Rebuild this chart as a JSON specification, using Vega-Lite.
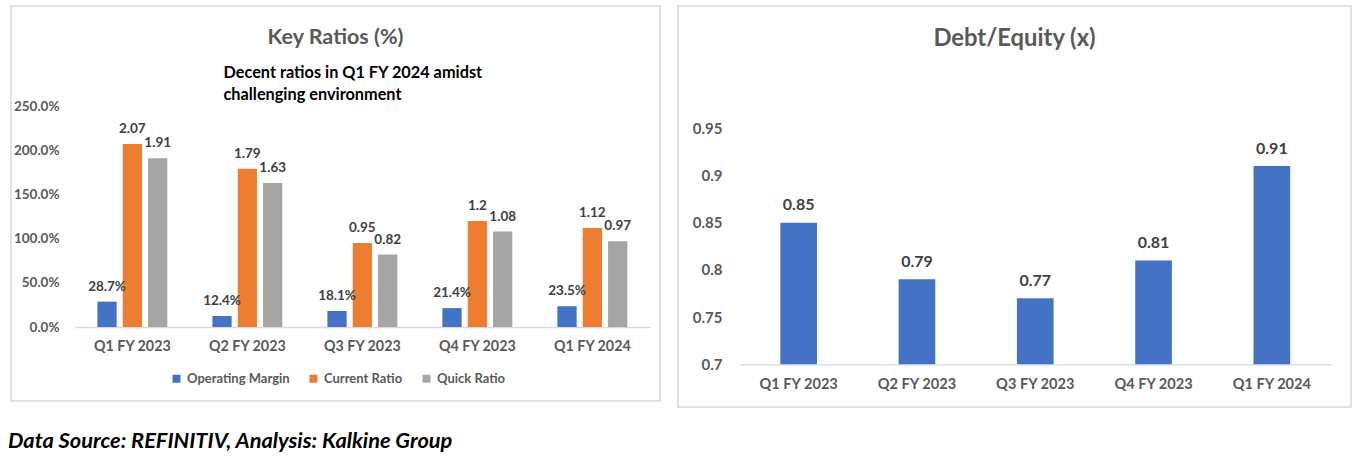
{
  "$schema": "https://vega.github.io/schema/vega-lite/v6.json",
  "padding": {"left": 8, "top": 5, "right": 0, "bottom": 0},
  "background": "white",
  "config": {
    "font": "Lato",
    "view": {"stroke": "#D9D9D9", "strokeWidth": 1.5},
    "concat": {"spacing": 16}
  },
  "title": {
    "text": "Data Source: REFINITIV, Analysis: Kalkine Group",
    "orient": "bottom",
    "anchor": "start",
    "frame": "group",
    "fontSize": 21.8,
    "fontStyle": "italic",
    "fontWeight": "bold",
    "color": "#000000",
    "baseline": "alphabetic",
    "offset": 40,
    "dx": -3
  },
  "hconcat": [
    {
      "width": 649,
      "height": 395,
      "title": {
        "text": "Key Ratios (%)",
        "anchor": "middle",
        "frame": "group",
        "fontSize": 21.5,
        "fontWeight": "bold",
        "color": "#595959",
        "baseline": "alphabetic",
        "offset": -59
      },
      "data": {
        "values": [
          {"period": "Q1 FY 2023", "series": "Operating Margin", "value": 28.7, "label": "28.7%"},
          {"period": "Q1 FY 2023", "series": "Current Ratio", "value": 207, "label": "2.07"},
          {"period": "Q1 FY 2023", "series": "Quick Ratio", "value": 191, "label": "1.91"},
          {"period": "Q2 FY 2023", "series": "Operating Margin", "value": 12.4, "label": "12.4%"},
          {"period": "Q2 FY 2023", "series": "Current Ratio", "value": 179, "label": "1.79"},
          {"period": "Q2 FY 2023", "series": "Quick Ratio", "value": 163, "label": "1.63"},
          {"period": "Q3 FY 2023", "series": "Operating Margin", "value": 18.1, "label": "18.1%"},
          {"period": "Q3 FY 2023", "series": "Current Ratio", "value": 95, "label": "0.95"},
          {"period": "Q3 FY 2023", "series": "Quick Ratio", "value": 82, "label": "0.82"},
          {"period": "Q4 FY 2023", "series": "Operating Margin", "value": 21.4, "label": "21.4%"},
          {"period": "Q4 FY 2023", "series": "Current Ratio", "value": 120, "label": "1.2"},
          {"period": "Q4 FY 2023", "series": "Quick Ratio", "value": 108, "label": "1.08"},
          {"period": "Q1 FY 2024", "series": "Operating Margin", "value": 23.5, "label": "23.5%"},
          {"period": "Q1 FY 2024", "series": "Current Ratio", "value": 112, "label": "1.12"},
          {"period": "Q1 FY 2024", "series": "Quick Ratio", "value": 97, "label": "0.97"}
        ]
      },
      "encoding": {
        "x": {
          "field": "period",
          "type": "nominal",
          "sort": null,
          "scale": {"range": [63.85, 638.85], "paddingInner": 0.392, "paddingOuter": 0.196},
          "axis": {
            "title": null,
            "orient": "bottom",
            "offset": -74,
            "domainColor": "#D9D9D9",
            "domainWidth": 1.3,
            "ticks": false,
            "grid": false,
            "labelAngle": 0,
            "labelPadding": 12,
            "labelFontSize": 14.3,
            "labelFontWeight": "bold",
            "labelColor": "#595959"
          }
        },
        "xOffset": {
          "field": "series",
          "type": "nominal",
          "sort": ["Operating Margin", "Current Ratio", "Quick Ratio"],
          "scale": {"paddingInner": 0.24, "paddingOuter": 0}
        },
        "y": {
          "field": "value",
          "type": "quantitative",
          "scale": {"domain": [0, 250], "range": [321, 100], "nice": false},
          "axis": {
            "title": ["Decent ratios in Q1 FY 2024 amidst", "challenging environment"],
            "orient": "left",
            "offset": -48,
            "values": [0, 50, 100, 150, 200, 250],
            "labelExpr": "format(datum.value, '.1f') + '%'",
            "domain": false,
            "ticks": false,
            "grid": false,
            "labelPadding": 0,
            "labelFontSize": 13.5,
            "labelFontWeight": "bold",
            "labelColor": "#595959",
            "titleAngle": 0,
            "titleAlign": "left",
            "titleBaseline": "top",
            "titleX": 164,
            "titleY": 58,
            "titleFontSize": 16.3,
            "titleFontWeight": "bold",
            "titleColor": "#000000",
            "titleLineHeight": 22
          }
        }
      },
      "layer": [
        {
          "mark": {"type": "bar"},
          "encoding": {
            "color": {
              "field": "series",
              "type": "nominal",
              "scale": {
                "domain": ["Operating Margin", "Current Ratio", "Quick Ratio"],
                "range": ["#4472C4", "#ED7D31", "#A5A5A5"]
              },
              "legend": {
                "orient": "none",
                "direction": "horizontal",
                "legendX": 159,
                "legendY": 366,
                "title": null,
                "symbolType": "square",
                "symbolSize": 64,
                "symbolStrokeWidth": 0,
                "labelFontSize": 13,
                "labelFontWeight": "bold",
                "labelColor": "#595959",
                "labelOffset": 4,
                "columnPadding": 17
              }
            }
          }
        },
        {
          "mark": {"type": "text", "baseline": "middle", "dy": -15, "fontSize": 13.5, "fontWeight": "bold", "color": "#404040"},
          "encoding": {"text": {"field": "label", "type": "nominal"}}
        }
      ]
    },
    {
      "width": 673,
      "height": 401,
      "title": {
        "text": "Debt/Equity (x)",
        "anchor": "middle",
        "frame": "group",
        "fontSize": 23.8,
        "fontWeight": "bold",
        "color": "#595959",
        "baseline": "alphabetic",
        "offset": -64
      },
      "data": {
        "values": [
          {"period": "Q1 FY 2023", "value": 0.85},
          {"period": "Q2 FY 2023", "value": 0.79},
          {"period": "Q3 FY 2023", "value": 0.77},
          {"period": "Q4 FY 2023", "value": 0.81},
          {"period": "Q1 FY 2024", "value": 0.91}
        ]
      },
      "encoding": {
        "x": {
          "field": "period",
          "type": "nominal",
          "sort": null,
          "scale": {"range": [61.5, 653], "paddingInner": 0.69, "paddingOuter": 0.345},
          "axis": {
            "title": null,
            "orient": "bottom",
            "offset": -42.7,
            "domainColor": "#D9D9D9",
            "domainWidth": 1.3,
            "ticks": false,
            "grid": false,
            "labelAngle": 0,
            "labelPadding": 12,
            "labelFontSize": 14.6,
            "labelFontWeight": "bold",
            "labelColor": "#595959"
          }
        },
        "y": {
          "field": "value",
          "type": "quantitative",
          "scale": {"domain": [0.7, 0.95], "range": [358.3, 122.3], "nice": false, "zero": false},
          "axis": {
            "title": null,
            "orient": "left",
            "offset": -44,
            "values": [0.7, 0.75, 0.8, 0.85, 0.9, 0.95],
            "format": "~g",
            "domain": false,
            "ticks": false,
            "grid": false,
            "labelPadding": 0,
            "labelFontSize": 15,
            "labelFontWeight": "bold",
            "labelColor": "#595959"
          }
        }
      },
      "layer": [
        {
          "mark": {"type": "bar", "color": "#4472C4"},
          "encoding": {"y2": {"datum": 0.7}}
        },
        {
          "mark": {"type": "text", "baseline": "middle", "dy": -17.5, "fontSize": 16, "fontWeight": "bold", "color": "#404040"},
          "encoding": {"text": {"field": "value", "type": "quantitative", "format": ".2f"}}
        }
      ]
    }
  ]
}
